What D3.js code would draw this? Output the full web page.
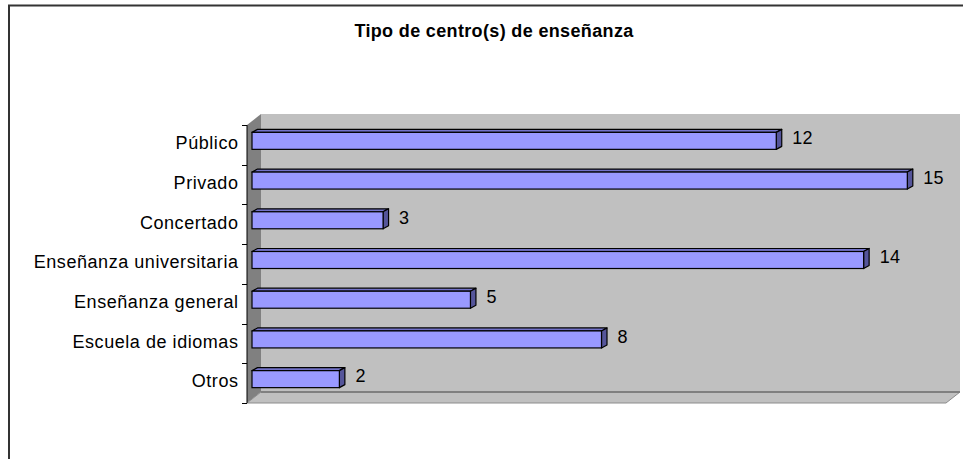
<!DOCTYPE html>
<html>
<head>
<meta charset="utf-8">
<script src="https://cdn.jsdelivr.net/npm/d3@7"></script>
<style>
  body { margin: 0; background: #fff; }
  text { font-family: "Liberation Sans", Arial, sans-serif; fill: #000; }
</style>
</head>
<body>
<div id="chart-area"></div>
<script>
// data
var categories = ["Público", "Privado", "Concertado", "Enseñanza universitaria",
                  "Enseñanza general", "Escuela de idiomas", "Otros"];
var values = [12, 15, 3, 14, 5, 8, 2];
var xMax = 16;

var W = 963, H = 459;
// 3d depth of the plot box
var depthX = 14, depthY = -11;
// bars sit a bit inside the box
var barOffX = 5, barOffY = -4, barDX = 5.5, barDY = -3, barH = 17;

var svg = d3.select("#chart-area")
    .append("svg")
        .attr("width", W)
        .attr("height", H);

// outer frame
svg.append("rect")
    .attr("x", 9)
    .attr("y", 5.5)
    .attr("width", W)
    .attr("height", H)
    .attr("fill", "none")
    .attr("stroke", "#333")
    .attr("stroke-width", 2);

svg.append("text")
    .attr("x", 494)
    .attr("y", 36.5)
    .attr("text-anchor", "middle")
    .attr("font-size", "18px")
    .attr("font-weight", "bold")
    .attr("letter-spacing", "0.35px")
    .text("Tipo de centro(s) de enseñanza");

var x = d3.scaleLinear()
    .domain([0, xMax])
    .range([247, 946]);

var y = d3.scaleBand()
    .domain(categories)
    .range([125, 403]);

var x0 = x(0), x1 = x(xMax), y0 = y.range()[0], y1 = y.range()[1];

function pts(a) { return a.map(function(p){ return p.join(","); }).join(" "); }

// back wall
svg.append("polygon")
    .attr("points", pts([[x0 + depthX, y0 + depthY], [x1 + depthX, y0 + depthY],
                         [x1 + depthX, y1 + depthY], [x0 + depthX, y1 + depthY]]))
    .attr("fill", "#c0c0c0");

// left wall
svg.append("polygon")
    .attr("points", pts([[x0, y0], [x0 + depthX, y0 + depthY],
                         [x0 + depthX, y1 + depthY], [x0, y1]]))
    .attr("fill", "#808080");

// floor
svg.append("polygon")
    .attr("points", pts([[x0, y1], [x0 + depthX, y1 + depthY],
                         [x1 + depthX, y1 + depthY], [x1, y1]]))
    .attr("fill", "#c0c0c0")
    .attr("stroke", "#8c8c8c")
    .attr("stroke-width", 1);

svg.append("line")
    .attr("x1", x0 + depthX).attr("x2", x1 + depthX)
    .attr("y1", y1 + depthY).attr("y2", y1 + depthY)
    .attr("stroke", "#808080")
    .attr("stroke-width", 2);

// category axis
svg.append("line")
    .attr("x1", x0).attr("x2", x0)
    .attr("y1", y0).attr("y2", y1)
    .attr("stroke", "#000");

var bounds = categories.map(function(d){ return y(d); }).concat([y1]);
svg.selectAll(".tick")
    .data(bounds)
    .enter()
    .append("line")
        .attr("class", "tick")
        .attr("x1", x0 - 5).attr("x2", x0)
        .attr("y1", function(d){ return Math.round(d) + 0.5; })
        .attr("y2", function(d){ return Math.round(d) + 0.5; })
        .attr("stroke", "#000");

svg.selectAll(".cat")
    .data(categories)
    .enter()
    .append("text")
        .attr("class", "cat")
        .attr("x", 238.5)
        .attr("y", function(d){ return y(d) + y.bandwidth() / 2 - 2; })
        .attr("dy", "0.35em")
        .attr("text-anchor", "end")
        .attr("font-size", "18px")
        .attr("letter-spacing", "0.55px")
        .text(function(d){ return d; });

// bars
var bars = svg.selectAll(".bar")
    .data(values)
    .enter()
    .append("g")
        .attr("class", "bar");

function bx0() { return x(0) + barOffX; }
function bx1(v) { return x(v) + barOffX; }
function byTop(i) { return y(categories[i]) + y.bandwidth() / 2 + barOffY - barH / 2; }

bars.append("polygon")
    .attr("points", function(d, i){
        var t = byTop(i);
        return pts([[bx0(), t], [bx0() + barDX, t + barDY], [bx1(d) + barDX, t + barDY], [bx1(d), t]]);
    })
    .attr("fill", "#7373c8")
    .attr("stroke", "#000")
    .attr("stroke-width", 1.2)
    .attr("stroke-linejoin", "round");

bars.append("polygon")
    .attr("points", function(d, i){
        var t = byTop(i);
        return pts([[bx1(d), t], [bx1(d) + barDX, t + barDY], [bx1(d) + barDX, t + barH + barDY], [bx1(d), t + barH]]);
    })
    .attr("fill", "#55559a")
    .attr("stroke", "#000")
    .attr("stroke-width", 1.2)
    .attr("stroke-linejoin", "round");

bars.append("rect")
    .attr("x", bx0())
    .attr("y", function(d, i){ return byTop(i); })
    .attr("width", function(d){ return bx1(d) - bx0(); })
    .attr("height", barH)
    .attr("fill", "#9999ff")
    .attr("stroke", "#000")
    .attr("stroke-width", 1.2);

// value labels
svg.selectAll(".val")
    .data(values)
    .enter()
    .append("text")
        .attr("class", "val")
        .attr("x", function(d){ return bx1(d) + 16; })
        .attr("y", function(d, i){ return y(categories[i]) + y.bandwidth() / 2 - 7; })
        .attr("dy", "0.35em")
        .attr("font-size", "18px")
        .attr("letter-spacing", "0.3px")
        .text(function(d){ return d; });
</script>
</body>
</html>
